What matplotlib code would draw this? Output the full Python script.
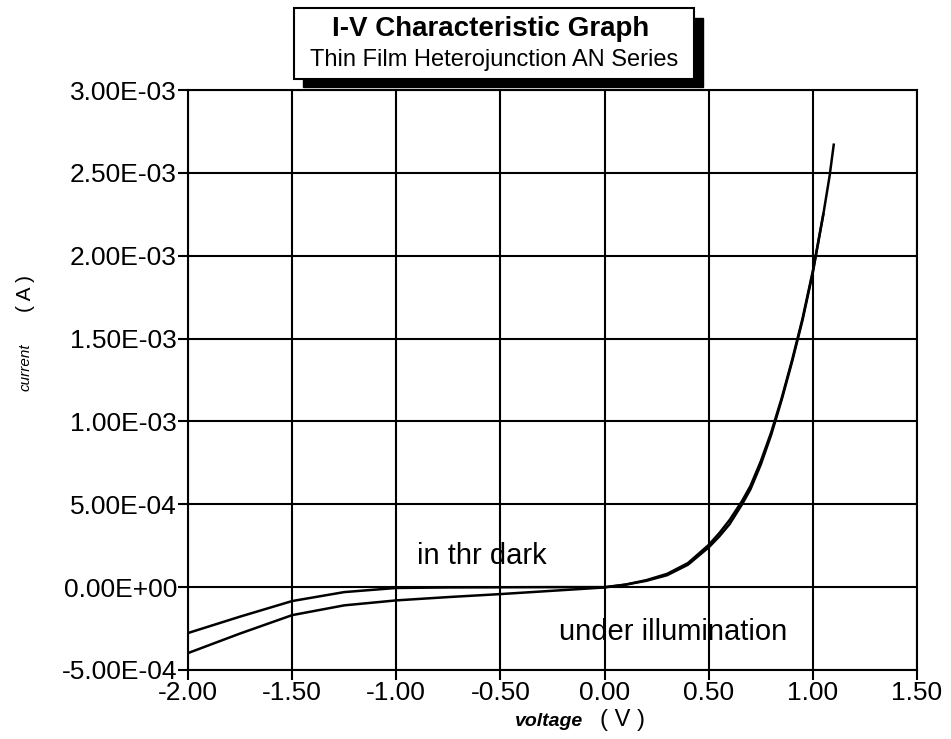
import matplotlib
matplotlib.use("Agg")
import matplotlib.pyplot as plt
from matplotlib.patches import Rectangle

plt.rcParams['font.family'] = ['Liberation Sans', 'DejaVu Sans']

# voltage (V) and current (A)
V_dark = [-2.00, -1.75, -1.50, -1.25, -1.00, -0.75, -0.50, -0.25, 0.00, 0.10, 0.20,
          0.30, 0.40, 0.50, 0.55, 0.60, 0.66, 0.70, 0.75, 0.80, 0.85, 0.90, 0.95,
          1.00, 1.05, 1.08, 1.10]
I_dark = [-2.77e-4, -1.78e-4, -0.84e-4, -0.30e-4, -0.05e-4, -0.02e-4, -0.01e-4, 0.0,
          0.0, 0.15e-4, 0.38e-4, 0.72e-4, 1.35e-4, 2.40e-4, 3.05e-4, 3.80e-4, 5.00e-4,
          5.90e-4, 7.40e-4, 9.20e-4, 1.13e-3, 1.36e-3, 1.61e-3, 1.90e-3, 2.25e-3,
          2.48e-3, 2.67e-3]

V_light = [-2.00, -1.75, -1.50, -1.25, -1.00, -0.75, -0.50, -0.25, 0.00, 0.10, 0.20,
           0.30, 0.40, 0.50, 0.55, 0.60, 0.66, 0.70, 0.75, 0.80, 0.85, 0.90, 0.95,
           1.00, 1.05]
I_light = [-3.98e-4, -2.80e-4, -1.69e-4, -1.10e-4, -0.80e-4, -0.60e-4, -0.42e-4, -0.22e-4,
           -0.02e-4, 0.15e-4, 0.42e-4, 0.80e-4, 1.45e-4, 2.55e-4, 3.25e-4, 4.05e-4,
           5.20e-4, 6.10e-4, 7.60e-4, 9.35e-4, 1.14e-3, 1.37e-3, 1.62e-3, 1.91e-3, 2.25e-3]

xticks = [-2.0, -1.5, -1.0, -0.5, 0.0, 0.5, 1.0, 1.5]
yticks = [-5e-4, 0.0, 5e-4, 1e-3, 1.5e-3, 2e-3, 2.5e-3, 3e-3]
ytick_labels = ["-5.00E-04", "0.00E+00", "5.00E-04", "1.00E-03",
                "1.50E-03", "2.00E-03", "2.50E-03", "3.00E-03"]

fig = plt.figure(figsize=(9.51, 7.39), dpi=100)
ax = fig.add_axes([0.1977, 0.0934, 0.7666, 0.7848])

ax.plot(V_dark, I_dark, color="black", lw=1.8)
ax.plot(V_light, I_light, color="black", lw=1.8)

ax.set_xlim(-2.0, 1.5)
ax.set_ylim(-5e-4, 3e-3)
ax.set_xticks(xticks)
ax.set_xticklabels(["%.2f" % v for v in xticks])
ax.set_yticks(yticks)
ax.set_yticklabels(ytick_labels)
ax.grid(True, color="black", lw=1.5)
ax.tick_params(labelsize=19, length=7, width=1.5, direction="out", pad=1)
for s in ax.spines.values():
    s.set_linewidth(1.5)

ax.text(-0.90, 0.00019, "in thr dark", fontsize=21, ha="left", va="center")
ax.text(-0.22, -0.00027, "under illumination", fontsize=21, ha="left", va="center")

# axis labels
fig.text(0.027, 0.503, "current", rotation=90, style="italic", fontsize=11,
         ha="center", va="center")
fig.text(0.027, 0.6035, "( A )", rotation=90, fontsize=15, ha="center", va="center")
fig.text(583 / 951, 1 - 722 / 739, "voltage", style="italic", fontweight="bold",
         fontsize=14, ha="right", va="center")
fig.text(600 / 951, 1 - 720 / 739, "( V )", fontsize=17, ha="left", va="center")

# title box with drop shadow
fig.patches.append(Rectangle((303 / 951, 1 - 87 / 739), 400 / 951, 69 / 739,
                             transform=fig.transFigure, facecolor="black",
                             edgecolor="black"))
fig.patches.append(Rectangle((294 / 951, 1 - 79 / 739), 400 / 951, 71 / 739,
                             transform=fig.transFigure, facecolor="white",
                             edgecolor="black", lw=1.5))
fig.text(491 / 951, 1 - 29 / 739, "I-V Characteristic Graph", fontsize=20,
         fontweight="bold", ha="center", va="center")
fig.text(494 / 951, 1 - 60 / 739, "Thin Film Heterojunction AN Series", fontsize=17,
         ha="center", va="center")

fig.savefig("out.png", dpi=100)
